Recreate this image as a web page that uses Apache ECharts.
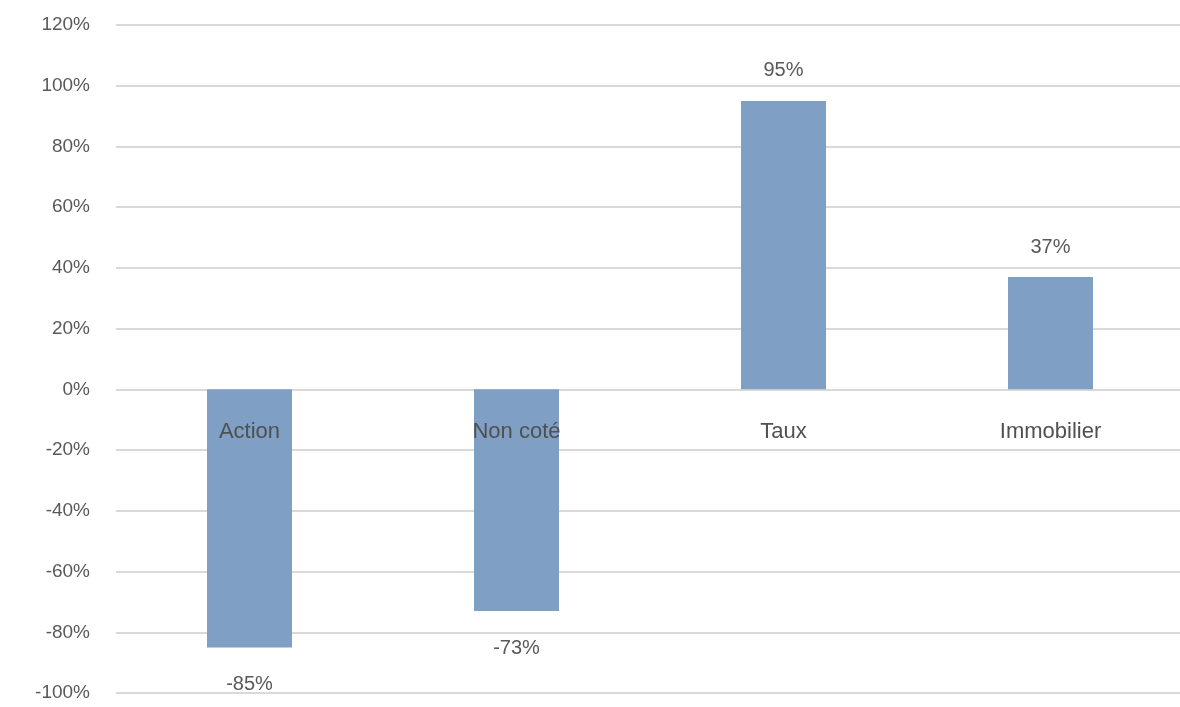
<!DOCTYPE html>
<html>
<head>
<meta charset="utf-8">
<script src="https://cdn.jsdelivr.net/npm/echarts@6/dist/echarts.min.js"></script>
<style>
  html, body { margin: 0; padding: 0; background: #ffffff; }
  #chart { width: 1180px; height: 707px; }
</style>
</head>
<body>
<div id="chart"></div>
<script>
// Asset classes and their percentage change
const categories = ['Action', 'Non coté', 'Taux', 'Immobilier'];
const values = [-85, -73, 95, 37];

const axisMin = -100;
const axisMax = 120;
const axisStep = 20;

const textColor = '#595959';
const fontFamily = 'Liberation Sans, Arial, sans-serif';

// negative bars carry their label a little further from the bar end
const barData = values.map(v => ({
  value: v,
  label: { distance: v < 0 ? 27 : 20 }
}));

// category names are written just under the zero line
const nameData = categories.map(c => [c, 0]);

const chart = echarts.init(document.getElementById('chart'));
chart.setOption({
  animation: false,
  backgroundColor: '#ffffff',
  grid: {
    left: 116, top: 25, width: 1068, bottom: 14,
    containLabel: false,
    outerBoundsMode: 'none'
  },
  xAxis: {
    type: 'category',
    data: categories,
    axisLine: { show: false },
    axisTick: { show: false },
    axisLabel: { show: false }
  },
  yAxis: {
    type: 'value',
    min: axisMin,
    max: axisMax,
    interval: axisStep,
    axisLine: { show: false },
    axisTick: { show: false },
    axisLabel: {
      formatter: '{value}%',
      color: textColor,
      fontSize: 19,
      fontFamily: fontFamily,
      margin: 26
    },
    splitLine: { lineStyle: { color: '#d9d9d9', width: 2 } }
  },
  series: [{
    type: 'bar',
    data: barData,
    barWidth: 85,
    itemStyle: { color: '#7f9fc4' },
    label: {
      show: true,
      position: 'outside',
      formatter: p => p.value + '%',
      color: textColor,
      fontSize: 20,
      fontFamily: fontFamily
    }
  }, {
    type: 'scatter',
    data: nameData,
    symbolSize: 0,
    silent: true,
    z: 10,
    itemStyle: { opacity: 1 },
    label: {
      show: true,
      position: 'bottom',
      distance: 32,
      opacity: 1,
      formatter: p => p.data[0],
      color: '#505050',
      fontSize: 22,
      fontFamily: fontFamily
    }
  }]
});
</script>
</body>
</html>
